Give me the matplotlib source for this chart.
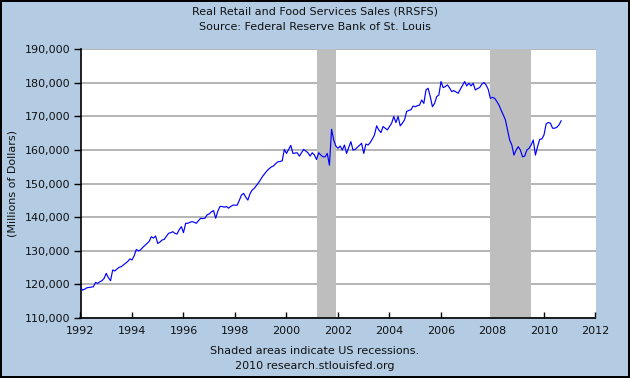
import matplotlib
matplotlib.use("Agg")
import matplotlib.pyplot as plt
import numpy as np
from matplotlib.ticker import FuncFormatter

start_year = 1992
sales = [
    # 1992
    119100, 118300, 118600, 119000, 119100, 119200, 119300, 120600, 120300, 120800, 121100, 121800,
    # 1993
    123300, 122000, 121100, 124300, 124000, 124600, 125100, 125300, 125800, 126300, 126800, 127600,
    # 1994
    127300, 128500, 130400, 130000, 130300, 131000, 131600, 132200, 132800, 134200, 133800, 134400,
    # 1995
    132200, 132600, 133200, 133400, 134300, 135200, 135400, 135700, 135200, 135000, 136300, 137200,
    # 1996
    135400, 138200, 138200, 138500, 138700, 138500, 138200, 139000, 139700, 139600, 139700, 140700,
    # 1997
    141000, 141600, 142000, 139700, 141800, 143200, 143200, 143000, 143200, 142700, 143200, 143600,
    # 1998
    143600, 143600, 145000, 146600, 147100, 146000, 145100, 147000, 148100, 148600, 149500, 150300,
    # 1999
    151300, 152300, 153100, 153900, 154500, 155000, 155300, 156000, 156500, 156600, 156800, 160200,
    # 2000
    159000, 160200, 161400, 159000, 159100, 159200, 158200, 159200, 160200, 159700, 159200, 158200,
    # 2001
    159200, 158500, 157200, 159200, 158500, 158000, 158000, 159000, 155500, 166200, 163000, 161200,
    # 2002
    160500, 161200, 160000, 161500, 159000, 160800, 162500, 160000, 160200, 160800, 161400, 162000,
    # 2003
    159000, 161800, 161500, 162200, 163300, 164500, 167200, 166000, 165200, 167000, 166500, 166000,
    # 2004
    167000, 168000, 170000, 168200, 170000, 167200, 168000, 169000, 171500, 171800, 172000, 173100,
    # 2005
    172900, 173200, 173400, 174900, 173900, 177900, 178400, 175900, 172900, 173900, 175900, 176400,
    # 2006
    180400, 178600, 178900, 179400, 178500, 177400, 177700, 177300, 176900, 178100, 179200, 180400,
    # 2007
    179100, 179900, 179100, 179900, 177900, 178300, 178600, 179600, 180100, 179400, 178100, 175400,
    # 2008
    175700, 175400, 174500, 173400, 171900, 170500, 169000, 166000, 163000, 161500, 158500, 160000,
    # 2009
    161000, 160000, 158000, 158200, 160000, 160500, 161500, 163000, 158500, 161000, 163200, 163300,
    # 2010
    164500, 167800, 168200, 168000, 166500, 166500, 166800, 167500, 168700,
]
recessions = [(2001.167, 2001.917), (2007.917, 2009.5)]
y_ticks = [110000, 120000, 130000, 140000, 150000, 160000, 170000, 180000, 190000]
x_ticks = [1992, 1994, 1996, 1998, 2000, 2002, 2004, 2006, 2008, 2010, 2012]

title_lines = ["Real Retail and Food Services Sales (RRSFS)", "Source: Federal Reserve Bank of St. Louis"]
ylabel = "(Millions of Dollars)"
footer_lines = ["Shaded areas indicate US recessions.", "2010 research.stlouisfed.org"]

bg = "#B3CCE4"
W, H = 630, 378
fig = plt.figure(figsize=(W / 100, H / 100), dpi=100, facecolor=bg,
                 edgecolor="black", linewidth=1.5)
ax = fig.add_axes([80.5 / W, 1 - 318 / H, (595.5 - 80.5) / W, (318 - 49.3) / H])
ax.set_facecolor("white")

x = start_year + np.arange(len(sales)) / 12.0
for a, b in recessions:
    ax.axvspan(a, b, color="#BEBEBE", lw=0, zorder=1)
ax.plot(x, sales, color="#0000FF", lw=0.85, zorder=3)

ax.set_xlim(1992, 2012)
ax.set_ylim(110000, 190000)
ax.set_yticks(y_ticks)
ax.set_xticks(x_ticks)
ax.yaxis.set_major_formatter(FuncFormatter(lambda v, p: f"{int(v):,}"))
ax.grid(axis="y", color="#A8A8A8", lw=1.2, zorder=0)
ax.set_axisbelow(True)
for s in ["top", "right"]:
    ax.spines[s].set_visible(False)
ax.spines["left"].set_color("black")
ax.spines["bottom"].set_color("black")
ax.spines["left"].set_linewidth(1.2)
ax.spines["bottom"].set_linewidth(1.2)
ax.tick_params(axis="x", direction="in", length=4, width=1, labelsize=8, pad=6, colors="black")
ax.tick_params(axis="y", direction="out", length=5, width=1, labelsize=8, pad=2, colors="black")
for lab in ax.get_xticklabels() + ax.get_yticklabels():
    lab.set_color("#111111")

fig.text(315 / W, 1 - 12 / H, title_lines[0], ha="center", va="center", fontsize=8, color="#111111")
fig.text(315 / W, 1 - 27 / H, title_lines[1], ha="center", va="center", fontsize=8, color="#111111")
fig.text(13 / W, 1 - 183 / H, ylabel, ha="center", va="center", rotation=90, fontsize=8, color="#111111")
fig.text(315 / W, 1 - 351 / H, footer_lines[0], ha="center", va="center", fontsize=8, color="#111111")
fig.text(315 / W, 1 - 366 / H, footer_lines[1], ha="center", va="center", fontsize=8, color="#111111")

fig.savefig("out.png", dpi=100, facecolor=bg, edgecolor="black")
